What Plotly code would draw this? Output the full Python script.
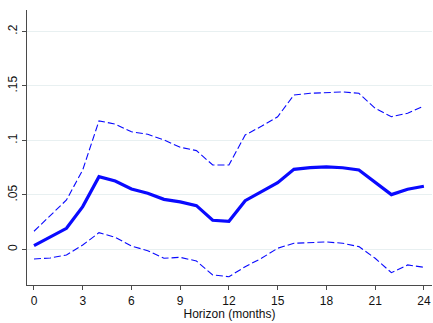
import plotly.graph_objects as go

# Impulse response over a 24-month horizon with 90% confidence band
horizon = list(range(0, 25))
irf = [0.0035, 0.0115, 0.0194, 0.0393, 0.0668, 0.0628, 0.0555, 0.0516, 0.0460,
       0.0436, 0.0402, 0.0268, 0.0259, 0.0448, 0.0530, 0.0613, 0.0735, 0.0750,
       0.0757, 0.0750, 0.0729, 0.0616, 0.0503, 0.0552, 0.0580]
upper = [0.0167, 0.0310, 0.0454, 0.0730, 0.1180, 0.1150, 0.1080, 0.1057, 0.1005,
         0.0938, 0.0907, 0.0775, 0.0775, 0.1050, 0.1130, 0.1218, 0.1417, 0.1433,
         0.1442, 0.1445, 0.1433, 0.1295, 0.1218, 0.1250, 0.1317]
lower = [-0.0087, -0.0078, -0.0050, 0.0041, 0.0154, 0.0112, 0.0032, -0.0011, -0.0081,
         -0.0072, -0.0106, -0.0234, -0.0250, -0.0158, -0.0081, 0.0011, 0.0057, 0.0062,
         0.0069, 0.0057, 0.0026, -0.0081, -0.0213, -0.0142, -0.0163]

x_ticks = [0, 3, 6, 9, 12, 15, 18, 21, 24]
y_ticks = [0, 0.05, 0.1, 0.15, 0.2]
y_labels = ["0", ".05", ".1", ".15", ".2"]

blue = "#0a0aff"
band_line = dict(color=blue, width=1.1, dash="7px,3px")

fig = go.Figure()
fig.add_trace(go.Scatter(x=horizon, y=upper, mode="lines", line=band_line))
fig.add_trace(go.Scatter(x=horizon, y=lower, mode="lines", line=band_line))
fig.add_trace(go.Scatter(x=horizon, y=irf, mode="lines",
                         line=dict(color=blue, width=3.2)))

axis_color = "#4a4a4a"
fig.update_layout(
    width=433, height=323,
    margin=dict(l=27, r=1, t=10, b=38),
    paper_bgcolor="white", plot_bgcolor="white",
    showlegend=False,
    font=dict(family="Liberation Sans, Arial, sans-serif", size=12, color="#111"),
    xaxis=dict(
        range=[-0.43, 24.5], tickvals=x_ticks,
        showgrid=False, zeroline=False,
        showline=True, linecolor=axis_color, linewidth=1.2,
        ticks="outside", ticklen=4, tickcolor=axis_color,
        title=dict(text="Horizon (months)", standoff=0,
                   font=dict(size=12)),
    ),
    yaxis=dict(
        range=[-0.0326, 0.2197], tickvals=y_ticks, ticktext=y_labels,
        tickangle=-90,
        showgrid=True, gridcolor="#e8f0f1", gridwidth=1, zeroline=False,
        showline=True, linecolor=axis_color, linewidth=1.2,
        ticks="outside", ticklen=4, tickcolor=axis_color,
    ),
)

fig.write_html("out.html")
